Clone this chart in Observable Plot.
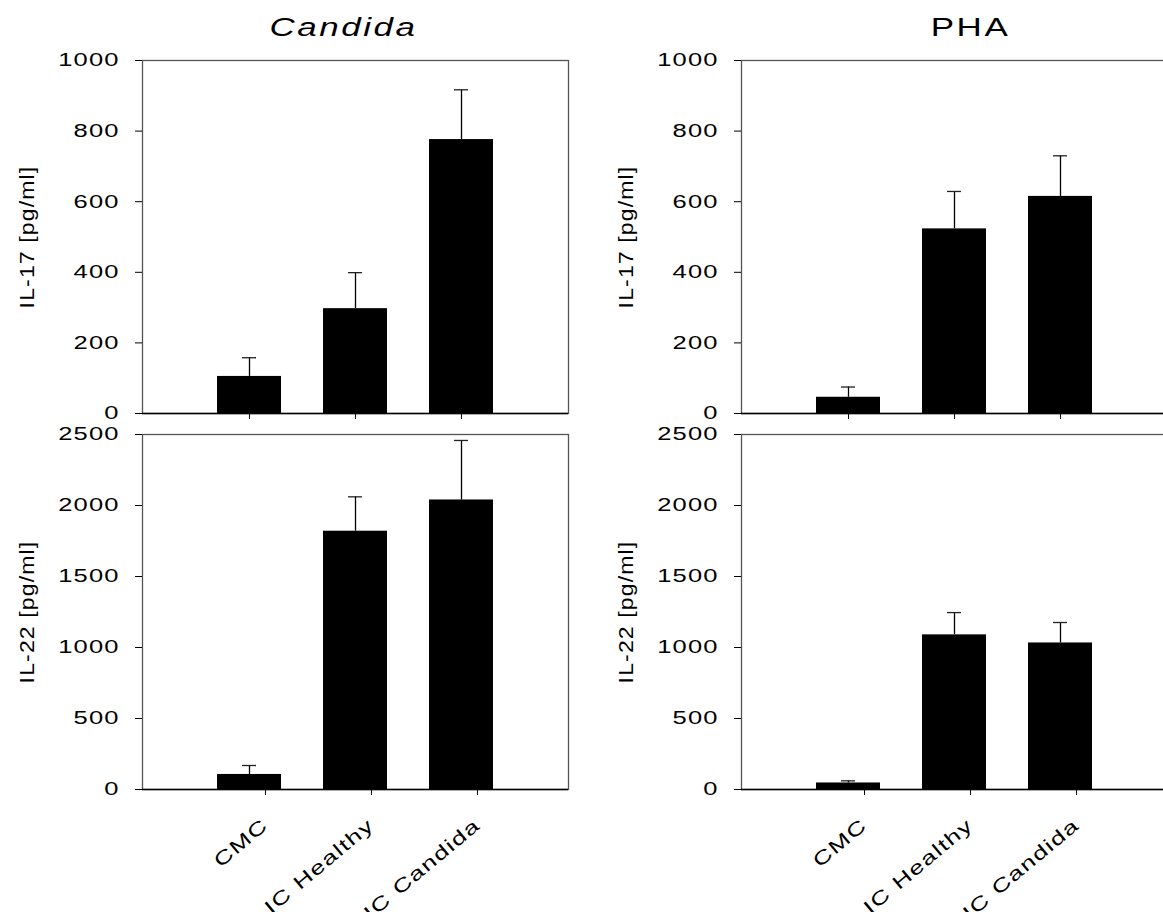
<!DOCTYPE html>
<html>
<head>
<meta charset="utf-8">
<script src="https://cdn.jsdelivr.net/npm/d3@7"></script>
<script src="https://cdn.jsdelivr.net/npm/@observablehq/plot@0.6"></script>
<style>
  html, body { margin: 0; padding: 0; background: white; overflow: hidden; }
  #fig { position: relative; width: 1163px; height: 912px; overflow: hidden; background: white; }
  #fig svg { position: absolute; }
</style>
</head>
<body>
<div id="fig"></div>
<script>
// ---- data ----
const categories = ["CMC", "IC Healthy", "IC Candida"];

const il17CandidaMean = [105, 297, 776];
const il17CandidaErr  = [53, 102, 141];
const il17PhaMean     = [46, 523, 615];
const il17PhaErr      = [29, 106, 115];

const il22CandidaMean = [106, 1819, 2039];
const il22CandidaErr  = [63, 242, 419];
const il22PhaMean     = [46, 1089, 1032];
const il22PhaErr      = [15, 157, 144];

const il17Ticks = [0, 200, 400, 600, 800, 1000];
const il22Ticks = [0, 500, 1000, 1500, 2000, 2500];

const panelTitles = ["Candida", "PHA"];
const yLabels = ["IL-17 [pg/ml]", "IL-22 [pg/ml]"];

const FONT = "'Liberation Sans', Arial, Helvetica, sans-serif";

// widen text along its own baseline around its anchor (the reference uses wide, spaced type)
function stretch(sel, sx, spacing) {
  sel.each(function () {
    if (sx !== 1) {
      const x = parseFloat(this.getAttribute("x")) || 0;
      const y = parseFloat(this.getAttribute("y")) || 0;
      const t = this.getAttribute("transform") || "";
      this.setAttribute("transform", `${t} translate(${x},${y}) scale(${sx},1) translate(${-x},${-y})`);
    }
    this.style.letterSpacing = spacing + "px";
  });
}

function panel(cfg) {
  const data = categories.map((group, i) => ({group, value: cfg.values[i], upper: cfg.values[i] + cfg.errors[i]}));
  const marks = [
    Plot.frame({stroke: "#555", strokeWidth: 1.3}),
    Plot.barY(data, {x: "group", y: "value", fill: "black"}),
    Plot.ruleX(data, {x: "group", y1: "value", y2: "upper", stroke: "black", strokeWidth: 1.3}),
    Plot.tickY(data, {x: "group", y: "upper", stroke: "#222", strokeWidth: 1.3, insetLeft: 25, insetRight: 25}),
    Plot.ruleY([0], {stroke: "black", strokeWidth: 1.6}),
    Plot.axisY({ticks: cfg.yTicks, tickSize: 7, tickPadding: 16, label: null, fontSize: 18.5, tickFormat: d => String(d)}),
    Plot.text([cfg.yLabel], {frameAnchor: "left", textAnchor: "middle", lineAnchor: "middle", rotate: -90, dx: -115, fontSize: 20, fill: "black"}),
    cfg.showX
      ? Plot.axisX({tickSize: 6, label: null, tickRotate: -40, tickPadding: 27, dx: 16, fontSize: 19})
      : Plot.axisX({tickSize: 6, label: null, tickFormat: () => ""})
  ];
  if (cfg.title) {
    marks.push(Plot.text([cfg.title], {frameAnchor: "top", textAnchor: "middle", lineAnchor: "middle", dy: -33, dx: cfg.titleDx, fontSize: 25,
      fontStyle: cfg.italic ? "italic" : "normal", fill: "black"}));
  }
  const svg = Plot.plot({
    width: cfg.width, height: cfg.height,
    marginLeft: cfg.marginLeft, marginRight: cfg.marginRight,
    marginTop: cfg.marginTop, marginBottom: cfg.marginBottom,
    style: {background: "transparent", fontFamily: FONT, fontSize: "18.5px", color: "black", overflow: "visible", maxWidth: "none"},
    x: {type: "band", domain: categories, paddingInner: 0.392, paddingOuter: 0.696},
    y: {domain: [cfg.yTicks[0], cfg.yTicks[cfg.yTicks.length - 1]]},
    marks
  });
  svg.style.left = cfg.left + "px";
  svg.style.top = cfg.top + "px";
  const s = d3.select(svg);
  stretch(s.selectAll('g[aria-label="y-axis tick label"] text'), 1.38, 0.8);
  stretch(s.selectAll('g[aria-label="x-axis tick label"] text'), 1.38, 1.0);
  stretch(s.selectAll("text").filter(function () { return this.textContent === cfg.yLabel; }), 1.15, 1);
  if (cfg.title) stretch(s.selectAll("text").filter(function () { return this.textContent === cfg.title; }), 1.4, 1.8);
  document.getElementById("fig").appendChild(svg);
}

// top-left: Candida IL-17
panel({values: il17CandidaMean, errors: il17CandidaErr, yTicks: il17Ticks, yLabel: yLabels[0],
  title: panelTitles[0], italic: true, titleDx: -12, showX: false,
  left: 0, top: 0, width: 580, height: 424, marginLeft: 142, marginRight: 12, marginTop: 60, marginBottom: 11});
// top-right: PHA IL-17
panel({values: il17PhaMean, errors: il17PhaErr, yTicks: il17Ticks, yLabel: yLabels[0],
  title: panelTitles[1], italic: false, titleDx: 16, showX: false,
  left: 580, top: 0, width: 600, height: 424, marginLeft: 161, marginRight: 13, marginTop: 60, marginBottom: 11});
// bottom-left: Candida IL-22
panel({values: il22CandidaMean, errors: il22CandidaErr, yTicks: il22Ticks, yLabel: yLabels[1],
  showX: true,
  left: 0, top: 424, width: 580, height: 488, marginLeft: 142, marginRight: 12, marginTop: 10, marginBottom: 123});
// bottom-right: PHA IL-22
panel({values: il22PhaMean, errors: il22PhaErr, yTicks: il22Ticks, yLabel: yLabels[1],
  showX: true,
  left: 580, top: 424, width: 600, height: 488, marginLeft: 161, marginRight: 13, marginTop: 10, marginBottom: 123});
</script>
</body>
</html>
